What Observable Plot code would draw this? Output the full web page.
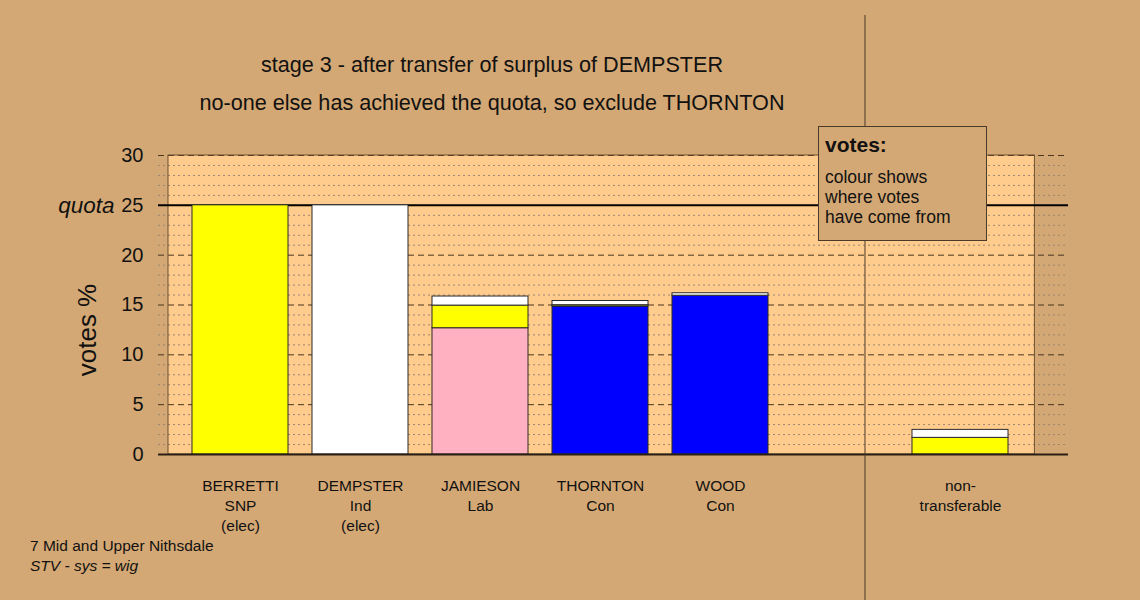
<!DOCTYPE html>
<html>
<head>
<meta charset="utf-8">
<script src="https://cdn.jsdelivr.net/npm/d3@7"></script>
<script src="https://cdn.jsdelivr.net/npm/@observablehq/plot@0.6"></script>
<style>
  html, body { margin: 0; padding: 0; background: #D4A874; }
  #chart { width: 1140px; height: 600px; }
  svg { font-family: "Liberation Sans", Arial, sans-serif; }
</style>
</head>
<body>
<div id="chart"></div>
<script>
// ---- data ----
const candidates = ["BERRETTI", "DEMPSTER", "JAMIESON", "THORNTON", "WOOD", "non-transferable"];
const labels = ["BERRETTI\nSNP\n(elec)", "DEMPSTER\nInd\n(elec)", "JAMIESON\nLab", "THORNTON\nCon", "WOOD\nCon", "non-\ntransferable"];
const slots = [1, 2, 3, 4, 5, 7];
// votes % by origin of the votes (stack order bottom -> top)
const sources = ["Lab", "Con", "SNP", "Ind"];
const sourceColors = ["#FFB1C1", "#0000FF", "#FFFF00", "#FFFFFF"];
const lab = [0, 0, 12.67, 0, 0, 0];
const con = [0, 0, 0, 14.85, 15.93, 0];
const snp = [25, 0, 2.27, 0.13, 0, 1.67];
const ind = [0, 25, 0.91, 0.42, 0.25, 0.80];
const yTicks = [0, 5, 10, 15, 20, 25, 30];
const quota = 25;
const titleLines = ["stage 3 - after transfer of surplus of DEMPSTER", "no-one else has achieved the quota, so exclude THORNTON"];
const footLines = ["7 Mid and Upper Nithsdale", "STV - sys = wig"];
const legendLines = ["colour shows", "where votes", "have come from"];

// ---- build stacked table ----
const seriesVals = [lab, con, snp, ind];
const segs = [];
candidates.forEach((c, i) => {
  let base = 0;
  seriesVals.forEach((arr, s) => {
    const v = arr[i];
    if (v > 0) {
      segs.push({cand: c, slot: slots[i], source: sources[s], color: sourceColors[s], y1: base, y2: base + v});
      base += v;
    }
  });
});
const minor = d3.range(1, 30).filter(d => d % 5 !== 0);
const major = [5, 10, 15, 20, 30];
const catTable = candidates.map((c, i) => ({slot: slots[i], label: labels[i]}));
const bw = 0.4;

const plot = Plot.plot({
  width: 1140,
  height: 600,
  marginLeft: 158,
  marginRight: 72,
  marginTop: 155,
  marginBottom: 146,
  style: {background: "transparent", color: "#111", fontFamily: "Liberation Sans, Arial, sans-serif"},
  x: {domain: [slots[0] - 0.6833, slots[slots.length - 1] + 0.9], axis: null},
  y: {domain: [0, 30], axis: null},
  marks: [
    Plot.rect([0], {x1: slots[0] - 0.6, x2: slots[slots.length - 1] + 0.62, y1: 0, y2: 30, fill: "#FFCC8E"}),
    Plot.ruleY(minor, {stroke: "#9a8670", strokeDasharray: "2,3", strokeWidth: 1}),
    Plot.ruleY(major, {stroke: "#4a3520", strokeDasharray: "6,4", strokeWidth: 1}),
    Plot.rect([0], {x1: slots[0] - 0.6, x2: slots[slots.length - 1] + 0.62, y1: 0, y2: 30, fill: "none", stroke: "#6b4f30", strokeWidth: 1}),
    Plot.ruleY([quota], {stroke: "#000", strokeWidth: 2}),
    Plot.rect(segs, {x1: d => d.slot - bw, x2: d => d.slot + bw, y1: "y1", y2: "y2", fill: "color", stroke: "#2a2a2a", strokeWidth: 1}),
    Plot.ruleY([0], {stroke: "#2a1f14", strokeWidth: 2}),
    Plot.axisY({ticks: yTicks, tickSize: 0, tickPadding: 15, fontSize: 20, label: null}),
    Plot.text(catTable, {x: "slot", text: "label", frameAnchor: "bottom", dy: 22, lineAnchor: "top", lineHeight: 1.3, fontSize: 15.5, fill: "#111"}),
    Plot.text(["quota"], {y: quota, text: d => d, frameAnchor: "left", dx: -44, textAnchor: "end", fontSize: 22.5, fontStyle: "italic", fill: "#111"}),
    Plot.text(["votes %"], {text: d => d, frameAnchor: "left", dx: -71, dy: 25, textAnchor: "middle", rotate: -90, fontSize: 26, fill: "#111"})
  ]
});

document.getElementById("chart").appendChild(plot);
const svg = d3.select(plot);
const xs = plot.scale("x");

// titles
titleLines.forEach((t, i) => {
  svg.append("text").attr("x", 492).attr("y", 72 + i * 38).attr("text-anchor", "middle")
    .attr("font-size", 21.6).attr("fill", "#111").text(t);
});
// footer
footLines.forEach((t, i) => {
  svg.append("text").attr("x", 30).attr("y", 551 + i * 20).attr("font-size", 15.5).attr("text-anchor", "start")
    .attr("fill", "#111").attr("font-style", i === 1 ? "italic" : "normal").text(t);
});
// divider between candidates and non-transferable
const xd = xs.apply(6.2) + 1;
svg.append("line").attr("x1", xd).attr("x2", xd).attr("y1", 15).attr("y2", 600)
  .attr("stroke", "#4a3a2a").attr("stroke-width", 1);
// legend box
const lg = svg.append("g").attr("text-anchor", "start");
lg.append("rect").attr("x", 818.5).attr("y", 126.5).attr("width", 168).attr("height", 114)
  .attr("fill", "#D4A874").attr("stroke", "#4a3a2a").attr("stroke-width", 1);
lg.append("text").attr("x", 825).attr("y", 152).attr("font-size", 21).attr("font-weight", "bold").attr("fill", "#111").text("votes:");
legendLines.forEach((t, i) => {
  lg.append("text").attr("x", 825).attr("y", 183 + i * 20).attr("font-size", 17.5).attr("fill", "#111").text(t);
});
</script>
</body>
</html>
